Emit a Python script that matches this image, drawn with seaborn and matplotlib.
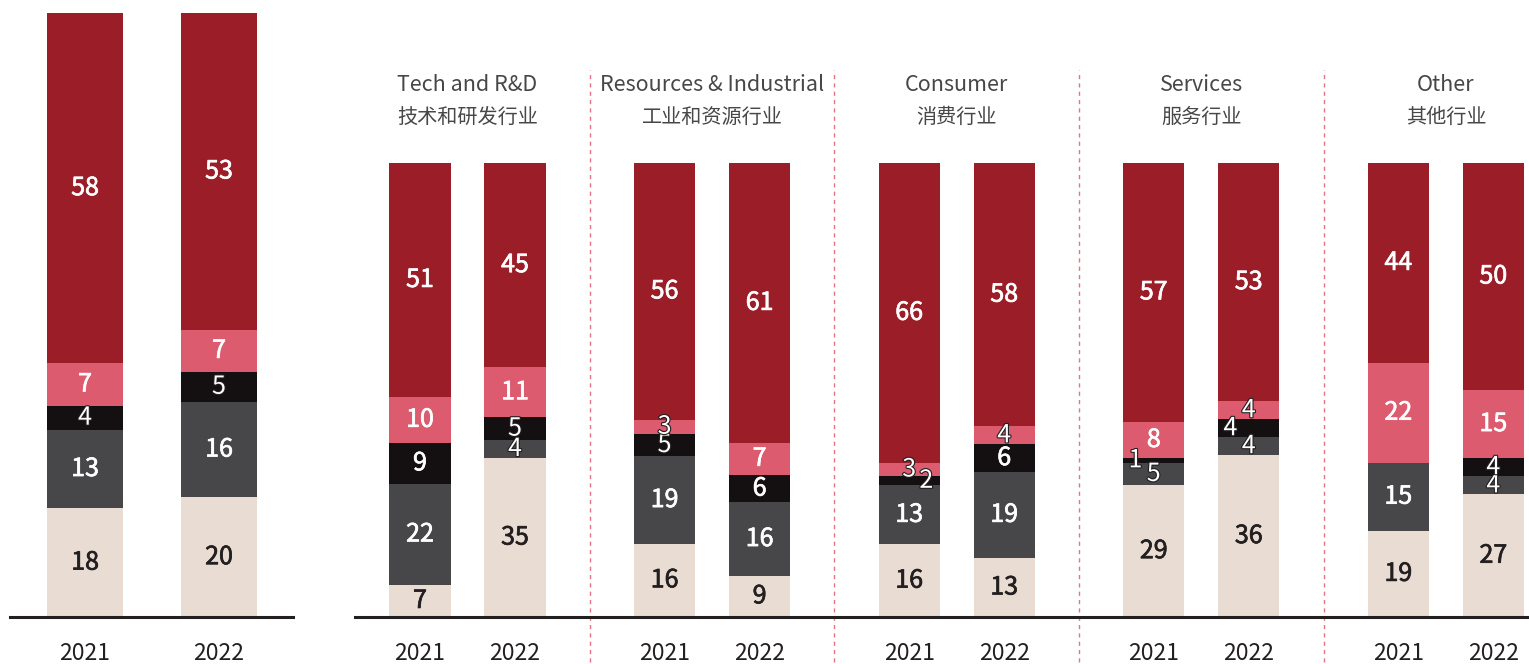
import pandas as pd
import matplotlib
matplotlib.use("Agg")
import matplotlib.pyplot as plt
import matplotlib.patheffects as pe
from matplotlib import transforms
import seaborn as sns

sns.set_theme(style="white")
plt.rcParams['font.family'] = ['Noto Sans CJK SC', 'DejaVu Sans']

years = ["2021", "2022"]
sectors_en = ["Tech and R&D", "Resources & Industrial", "Consumer", "Services", "Other"]
sectors_cn = ["技术和研发行业", "工业和资源行业", "消费行业", "服务行业", "其他行业"]

# overall, segments listed bottom -> top
all_beige = [18, 20]
all_grey = [13, 16]
all_black = [4, 5]
all_pink = [7, 7]
all_red = [58, 53]

# by sector, order: Tech 21, Tech 22, Res 21, Res 22, Cons 21, Cons 22, Serv 21, Serv 22, Other 21, Other 22
sec_beige = [7, 35, 16, 9, 16, 13, 29, 36, 19, 27]
sec_grey = [22, 4, 19, 16, 13, 19, 5, 4, 15, 4]
sec_black = [9, 5, 5, 6, 2, 6, 1, 4, 0, 4]
sec_pink = [10, 11, 3, 7, 3, 4, 8, 4, 22, 15]
sec_red = [51, 45, 56, 61, 66, 58, 57, 53, 44, 50]

segs = ['beige', 'grey', 'black', 'pink', 'red']
colors = ['#E8DCD3', '#474648', '#140F11', '#DC5B6F', '#9B1D27']
dark = '#231F20'

df_all = pd.DataFrame({'year': years, 'beige': all_beige, 'grey': all_grey,
                       'black': all_black, 'pink': all_pink, 'red': all_red})
df_sec = pd.DataFrame({'sector': [s for s in sectors_en for _ in years],
                       'year': years * len(sectors_en),
                       'beige': sec_beige, 'grey': sec_grey, 'black': sec_black,
                       'pink': sec_pink, 'red': sec_red})

# small sideways nudges for labels that would overlap (sector, year, segment) -> dx
nudge = {('Consumer', '2021', 'black'): 0.07,
         ('Services', '2021', 'black'): -0.075,
         ('Services', '2022', 'black'): -0.075}


def stack_tops(df):
    # every bar is scaled to full height, then cumulated
    pct = df[segs].div(df[segs].sum(axis=1), axis=0) * 100
    return pct, pct.cumsum(axis=1)


def label_segments(ax, df, pct, cum, xs, key):
    for r in range(len(df)):
        for i, s in enumerate(segs):
            v = df[s].iloc[r]
            if v == 0:
                continue
            y = cum[s].iloc[r] - pct[s].iloc[r] / 2
            k = (df[key].iloc[r] if key else None, df['year'].iloc[r], s)
            dx = nudge.get(k, 0)
            c = dark if s == 'beige' else 'white'
            t = ax.text(xs[r] + dx, y, str(v), ha='center', va='center',
                        fontsize=18, color=c)
            if v <= 5 and s != 'beige':
                t.set_path_effects([pe.withStroke(linewidth=1.6, foreground=dark)])
            else:
                # a touch heavier, the original digits are medium weight
                t.set_path_effects([pe.withStroke(linewidth=0.5, foreground=c)])


fig = plt.figure(figsize=(15.29, 6.64), dpi=100)
ax1 = fig.add_axes([10 / 1529, 47 / 664, 283 / 1529, 604 / 664])
ax2 = fig.add_axes([355 / 1529, 47 / 664, 1174 / 1529, 454 / 664])

# left panel: all respondents
pct1, cum1 = stack_tops(df_all)
for i in range(len(segs) - 1, -1, -1):
    d = df_all.assign(top=cum1[segs[i]])
    sns.barplot(data=d, x='year', y='top', color=colors[i], saturation=1,
                width=0.567, errorbar=None, linewidth=0, ax=ax1)
xs1 = [p.get_x() + p.get_width() / 2 for p in ax1.containers[0]]
label_segments(ax1, df_all, pct1, cum1, xs1, None)
ax1.set_xlim(-0.56, 1.552)

# right panel: by sector
pct2, cum2 = stack_tops(df_sec)
for i in range(len(segs) - 1, -1, -1):
    d = df_sec.assign(top=cum2[segs[i]])
    sns.barplot(data=d, x='sector', y='top', hue='year', order=sectors_en,
                hue_order=years, palette=[colors[i]] * 2, saturation=1,
                width=0.777, gap=0.357, errorbar=None, linewidth=0,
                legend=False, ax=ax2)
pos = {}
for yi, cont in enumerate(ax2.containers[:2]):
    for gi, p in enumerate(cont):
        pos[(sectors_en[gi], years[yi])] = p.get_x() + p.get_width() / 2
xs2 = [pos[(df_sec['sector'].iloc[r], df_sec['year'].iloc[r])] for r in range(len(df_sec))]
label_segments(ax2, df_sec, pct2, cum2, xs2, 'sector')
ax2.set_xlim(-0.46, 4.34)

trans = transforms.blended_transform_factory(ax2.transData, ax2.transAxes)
for gi, (en, cn) in enumerate(zip(sectors_en, sectors_cn)):
    ax2.text(gi, 1.172, en, transform=trans, ha='center', va='center',
             fontsize=15.5, color='#474747', fontweight='light')
    ax2.text(gi, 1.101, cn, transform=trans, ha='center', va='center',
             fontsize=14.5, color='#474747', fontweight='light')
for gi in range(len(sectors_en) - 1):
    ax2.axvline(gi + 0.5, ymin=-0.1, ymax=1.205, clip_on=False,
                color='#E77388', lw=1, ls=(0, (3, 3)))

ax2.set_xticks(xs2)
ax2.set_xticklabels(df_sec['year'])
ax1.set_xticks(xs1)
ax1.set_xticklabels(years)

for ax in (ax1, ax2):
    ax.set_ylim(0, 100)
    ax.set_yticks([])
    ax.set_xlabel('')
    ax.set_ylabel('')
    for s in ['top', 'left', 'right']:
        ax.spines[s].set_visible(False)
    ax.spines['bottom'].set_color(dark)
    ax.spines['bottom'].set_linewidth(2.2)
    ax.tick_params(axis='x', length=0, pad=18, labelsize=16.5, labelcolor=dark)

fig.savefig('out.png', dpi=100)
